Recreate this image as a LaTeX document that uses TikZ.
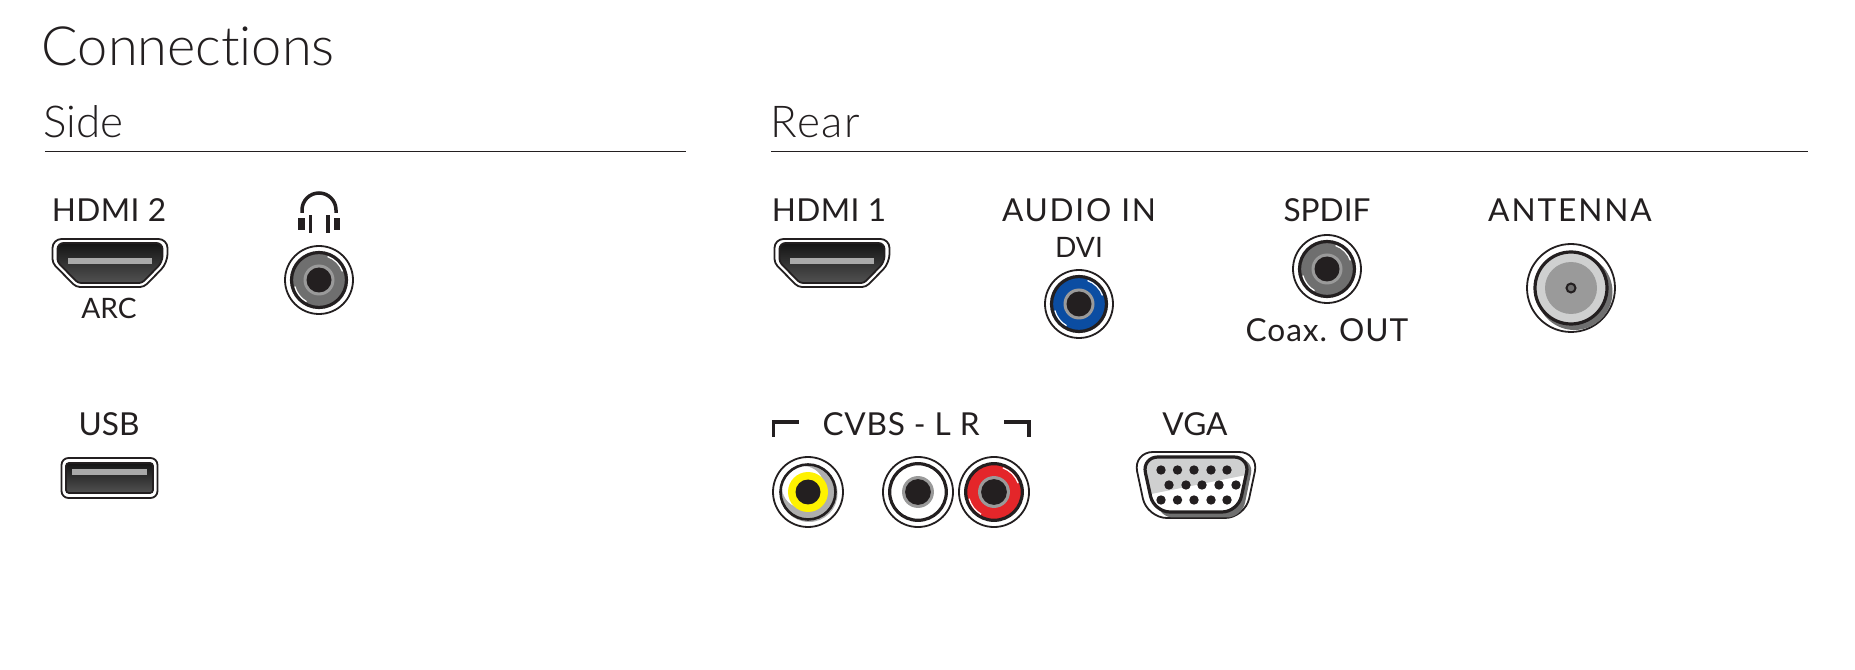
\documentclass[tikz,border=0pt]{standalone}
\usepackage{fontspec}
\setmainfont{Lato}
\newfontfamily\lightfont[Ligatures=NoCommon]{Lato Light}
\usepackage{xcolor}
\usetikzlibrary{positioning}
\definecolor{inkblack}{HTML}{231F20}
\definecolor{socketgrey}{HTML}{6F6F6F}
\definecolor{collargrey}{HTML}{9A9A9A}
\definecolor{palegrey}{HTML}{CFD0D0}
\definecolor{rcablue}{HTML}{0B4DA2}
\definecolor{rcared}{HTML}{E4262A}
\definecolor{rcayellow}{HTML}{FFF200}
\newcommand{\spaced}[2]{{\addfontfeature{LetterSpace=#1}#2}}

\begin{document}
\begin{tikzpicture}[
  title/.style={font=\lightfont\fontsize{15.4}{20}\selectfont, text=inkblack, anchor=base west, inner sep=0pt},
  heading/.style={font=\lightfont\fontsize{12.5}{15}\selectfont, text=inkblack, anchor=base west, inner sep=0pt},
  conlabel/.style={font=\fontsize{9}{11}\selectfont, text=inkblack, anchor=base, inner sep=0pt},
  sublabel/.style={font=\fontsize{8}{9}\selectfont, text=inkblack, anchor=base, inner sep=0pt},
  rule/.style={line width=0.016cm, inkblack},
  thinline/.style={line width=0.018cm, inkblack},
  ringline/.style={line width=0.032cm, inkblack},
  metal/.style={top color=black!92, bottom color=black!68},
  pics/jack/.style={code={
    \draw[thinline, fill=white] (0,0) circle (0.34);
    \draw[ringline, fill=#1] (0,0) circle (0.275);
    \draw[white, line width=0.012cm] (20:0.25) arc (20:70:0.25);
    \draw[white, line width=0.012cm] (195:0.25) arc (195:240:0.25);
    \fill[collargrey] (0,0) circle (0.155);
    \fill[inkblack] (0,0) circle (0.125);
  }},
  pics/videojack/.style={code={
    \draw[thinline, fill=white] (0,0) circle (0.35);
    \fill[collargrey!80!white] (0.01,-0.015) circle (0.285);
    \fill[white] (-0.05,0.05) circle (0.21);
    \draw[line width=0.026cm, inkblack] (0,0) circle (0.275);
    \fill[#1] (0,0) circle (0.2);
    \fill[inkblack] (0,0) circle (0.125);
  }},
  pics/antennajack/.style={code={
    \draw[thinline, fill=white] (0,0) circle (0.44);
    \fill[socketgrey] (0.035,-0.04) circle (0.38);
    \draw[ringline, fill=palegrey] (0,0) circle (0.36);
    \fill[collargrey] (0,0) circle (0.26);
    \draw[line width=0.02cm, inkblack, fill=socketgrey] (0,0) circle (0.045);
  }},
  pics/hdmiport/.style={code={
    \draw[thinline, fill=white, rounded corners=0.09cm] (-0.575,0.24) -- (0.575,0.24) -- (0.575,0.0) [rounded corners=0.04cm] -- (0.34,-0.24) -- (-0.34,-0.24) -- (-0.575,0.0) [rounded corners=0.09cm] -- cycle;
    \draw[thinline, metal, rounded corners=0.06cm] (-0.525,0.20) -- (0.525,0.20) -- (0.525,0.01) [rounded corners=0.03cm] -- (0.32,-0.20) -- (-0.32,-0.20) -- (-0.525,0.01) [rounded corners=0.06cm] -- cycle;
    \fill[collargrey!85!white] (-0.42,0.05) rectangle (0.42,-0.01);
  }},
  pics/usbport/.style={code={
    \draw[thinline, fill=white, rounded corners=0.07cm] (-0.48,0.20) rectangle (0.48,-0.20);
    \draw[thinline, metal, rounded corners=0.03cm] (-0.435,0.15) rectangle (0.435,-0.15);
    \fill[collargrey!85!white] (-0.375,0.09) rectangle (0.375,0.03);
  }},
  pics/vgaport/.style={code={
    \draw[thinline, fill=white, rounded corners=0.2cm] (-0.63,0.33) -- (0.63,0.33) -- (0.49,-0.33) -- (-0.49,-0.33) -- cycle;
    \fill[socketgrey, rounded corners=0.15cm] (-0.40,0.26) -- (0.58,0.26) -- (0.46,-0.325) -- (-0.38,-0.325) -- cycle;
    \begin{scope}
      \clip[rounded corners=0.16cm] (-0.54,0.28) -- (0.54,0.28) -- (0.42,-0.27) -- (-0.42,-0.27) -- cycle;
      \fill[white] (-0.6,0.3) rectangle (0.6,-0.3);
      \fill[palegrey] (-0.6,-0.12) -- (0.6,0.12) -- (0.6,0.3) -- (-0.6,0.3) -- cycle;
    \end{scope}
    \draw[ringline, rounded corners=0.16cm] (-0.54,0.28) -- (0.54,0.28) -- (0.42,-0.27) -- (-0.42,-0.27) -- cycle;
    \foreach \px in {-0.35,-0.185,-0.02,0.15,0.31} {
      \fill[inkblack] (\px,0.15) circle (0.047);
      \fill[inkblack] (\px,-0.15) circle (0.047);
    }
    \foreach \px in {-0.27,-0.10,0.06,0.23,0.40} {
      \fill[inkblack] (\px,0) circle (0.047);
    }
  }},
  pics/headphones/.style={code={
    \draw[inkblack, line width=0.035cm] (-0.17,-0.01) -- (-0.17,0.02) arc (180:0:0.17) -- (0.17,-0.01);
    \fill[inkblack] (-0.105,-0.03) rectangle (-0.07,-0.21);
    \fill[inkblack] (0.07,-0.03) rectangle (0.105,-0.21);
    \fill[inkblack] (-0.21,-0.06) rectangle (-0.145,-0.18);
    \fill[inkblack] (0.145,-0.06) rectangle (0.21,-0.18);
  }},
]
\useasboundingbox (0,0) rectangle (18.55,-6.70);

\node[title] (connections) at (0.41,-0.66) {Connections};
\node[heading] (side) at (0.43,-1.38) {Side};
\node[heading] (rear) at (7.70,-1.38) {\spaced{3}{Rear}};
\coordinate (sideL) at (0.45,-1.515);
\coordinate (sideR) at (6.86,-1.515);
\coordinate (rearL) at (7.71,-1.515);
\coordinate (rearR) at (18.08,-1.515);
\draw[rule] (sideL) -- (sideR);
\draw[rule] (rearL) -- (rearR);

\node[conlabel] (hdmiB) at (1.09,-2.22) {\spaced{1}{HDMI 2}};
\pic (portB) at (1.10,-2.63) {hdmiport};
\node[sublabel] (arc) at (1.09,-3.19) {ARC};
\pic (phones) at (3.19,-2.12) {headphones};
\pic (phonejack) at (3.19,-2.80) {jack=socketgrey};
\node[conlabel] (usb) at (1.09,-4.36) {USB};
\pic (usbconn) at (1.095,-4.78) {usbport};

\node[conlabel] (hdmiA) at (8.29,-2.22) {\spaced{1}{HDMI 1}};
\pic (portA) at (8.32,-2.63) {hdmiport};
\node[conlabel] (audio) at (10.79,-2.22) {\spaced{5.5}{AUDIO IN}};
\node[sublabel] (dvi) at (10.79,-2.58) {DVI};
\pic (bluejack) at (10.79,-3.04) {jack=rcablue};
\node[conlabel] (spdif) at (13.27,-2.22) {SPDIF};
\pic (coaxjack) at (13.27,-2.69) {jack=socketgrey};
\node[conlabel] (coax) at (13.27,-3.42) {\spaced{3}{Coax. OUT}};
\node[conlabel] (antenna) at (15.70,-2.22) {\spaced{6}{ANTENNA}};
\pic (aerial) at (15.71,-2.88) {antennajack};

\node[conlabel] (cvbs) at (9.01,-4.36) {\spaced{2.5}{CVBS - L R}};
\coordinate (brLa) at (7.735,-4.37);
\coordinate (brLb) at (7.735,-4.22);
\coordinate (brLc) at (7.985,-4.22);
\coordinate (brRa) at (10.04,-4.22);
\coordinate (brRb) at (10.29,-4.22);
\coordinate (brRc) at (10.29,-4.37);
\draw[line width=0.032cm, inkblack] (brLa) -- (brLb) -- (brLc);
\draw[line width=0.032cm, inkblack] (brRa) -- (brRb) -- (brRc);
\pic (videoin) at (8.08,-4.92) {videojack=rcayellow};
\pic[scale=1.03] (leftin) at (9.18,-4.92) {jack=white};
\pic[scale=1.03] (rightin) at (9.94,-4.92) {jack=rcared};
\node[conlabel] (vga) at (11.95,-4.36) {VGA};
\pic (vgaconn) at (11.96,-4.85) {vgaport};
\end{tikzpicture}
\end{document}
